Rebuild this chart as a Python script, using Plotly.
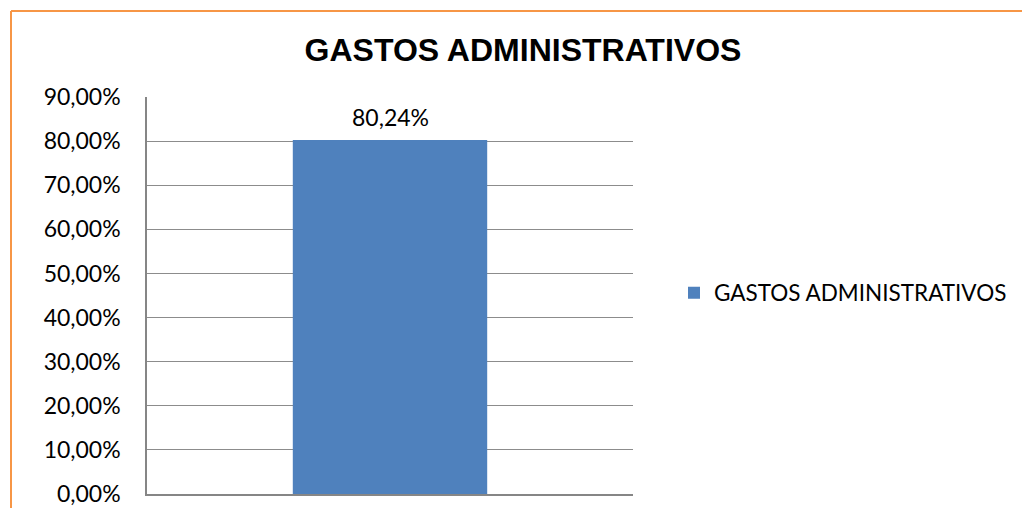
import plotly.graph_objects as go

# Chart data
categories = ["GASTOS ADMINISTRATIVOS"]
series_name = "GASTOS ADMINISTRATIVOS"
values = [0.8024]
tick_values = [0, 0.1, 0.2, 0.3, 0.4, 0.5, 0.6, 0.7, 0.8, 0.9]

W, H = 1022, 508
L, R, T, B = 147, W - 633, 97, H - 494
pw, ph = W - L - R, H - T - B

def px_x(x):
    return (x - L) / pw

def px_y(y):
    return (H - B - y) / ph

def pct(v):
    return f"{v * 100:.2f}".replace(".", ",") + "%"

label_font = "Lato, 'Open Sans', sans-serif"

fig = go.Figure()
fig.add_trace(go.Bar(
    x=categories,
    y=values,
    name=series_name,
    marker=dict(color="#4F81BD", line=dict(width=0)),
    width=0.40,
    showlegend=True,
))

# value labels above the bars
annotations = [
    dict(x=c, y=v, xref="x", yref="y", text=pct(v), showarrow=False,
         yanchor="bottom", yshift=7,
         font=dict(family=label_font, size=23, color="#000000"))
    for c, v in zip(categories, values)
]

fig.update_layout(
    width=W,
    height=H,
    margin=dict(l=L, r=R, t=T, b=B, pad=0, autoexpand=False),
    paper_bgcolor="#FFFFFF",
    plot_bgcolor="#FFFFFF",
    separators=",.",
    title=dict(
        text="<b>GASTOS ADMINISTRATIVOS</b>",
        font=dict(family="'Liberation Sans', Arial, sans-serif", size=32, color="#000000"),
        x=(523 / W), xanchor="center",
        y=1 - 50 / H, yanchor="middle",
    ),
    xaxis=dict(
        showticklabels=False,
        showgrid=False,
        showline=True,
        linecolor="#868686",
        linewidth=1.5,
        mirror=False,
        ticks="",
        fixedrange=True,
    ),
    yaxis=dict(
        range=[0, 0.9],
        tickvals=tick_values,
        tickformat=".2%",
        showgrid=True,
        gridcolor="#8C8C8C",
        gridwidth=1.2,
        showline=True,
        linecolor="#868686",
        linewidth=1.5,
        zeroline=False,
        ticks="",
        ticklen=0,
        ticklabelstandoff=20,
        tickfont=dict(family=label_font, size=23, color="#000000"),
        fixedrange=True,
    ),
    legend=dict(
        x=px_x(674), xanchor="left",
        y=px_y(293), yanchor="middle",
        font=dict(family=label_font, size=22.5, color="#000000"),
        bgcolor="rgba(0,0,0,0)",
        itemwidth=30,
    ),
    annotations=annotations,
    shapes=[
        # outer chart border
        dict(type="line", xref="paper", yref="paper",
             x0=px_x(11), x1=px_x(W + 5), y0=px_y(11), y1=px_y(11),
             line=dict(color="#F79646", width=2)),
        dict(type="line", xref="paper", yref="paper",
             x0=px_x(11), x1=px_x(11), y0=px_y(11), y1=px_y(H + 5),
             line=dict(color="#F79646", width=2)),
    ],
)

fig.write_html("out.html")
